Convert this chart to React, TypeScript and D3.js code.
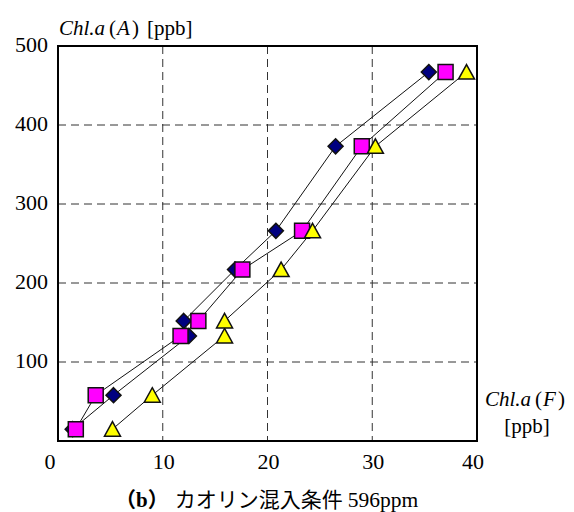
import { useEffect, useRef } from 'react';
import * as d3 from 'd3';

// Chl.a(A) levels shared by all three series
const levelsA = [15, 58, 133, 152, 217, 266, 373, 467];
// Chl.a(F) readings for each series
const diamondF = [1.4, 5.3, 12.5, 12.0, 16.9, 20.8, 26.5, 35.4];
const squareF = [1.7, 3.6, 11.7, 13.4, 17.6, 23.3, 29.0, 37.0];
const triangleF = [5.2, 9.0, 15.9, 15.9, 21.3, 24.3, 30.3, 39.0];

const xTicks = [0, 10, 20, 30, 40];
const yTicks = [100, 200, 300, 400, 500];
const xGrid = [10, 20, 30];
const yGrid = [100, 200, 300, 400];

const W = 574;
const H = 512;

const Chart = () => {
  const ref = useRef<SVGSVGElement>(null);

  useEffect(() => {
    const svg = d3.select(ref.current);
    svg.selectAll('*').remove();

    const x = d3.scaleLinear().domain([0, 40]).range([58, 477]);
    const y = d3.scaleLinear().domain([0, 500]).range([441, 46]);
    const serif = '"Times New Roman", "Liberation Serif", serif';
    const jp = '"Noto Sans CJK JP", sans-serif';

    // grid
    svg
      .append('g')
      .selectAll('line')
      .data(xGrid)
      .join('line')
      .attr('x1', (d) => x(d))
      .attr('x2', (d) => x(d))
      .attr('y1', y(500))
      .attr('y2', y(0))
      .attr('stroke', '#333')
      .attr('stroke-dasharray', '8,5');
    svg
      .append('g')
      .selectAll('line')
      .data(yGrid)
      .join('line')
      .attr('x1', x(0))
      .attr('x2', x(40))
      .attr('y1', (d) => y(d))
      .attr('y2', (d) => y(d))
      .attr('stroke', '#333')
      .attr('stroke-dasharray', '8,5');

    // frame
    svg
      .append('rect')
      .attr('x', x(0))
      .attr('y', y(500))
      .attr('width', x(40) - x(0))
      .attr('height', y(0) - y(500))
      .attr('fill', 'none')
      .attr('stroke', '#000')
      .attr('stroke-width', 2);

    const series = [
      { xs: diamondF, fill: '#000080', shape: 'diamond' },
      { xs: squareF, fill: '#FF00FF', shape: 'square' },
      { xs: triangleF, fill: '#FFFF00', shape: 'triangle' },
    ];

    const markerPath = (shape: string) => {
      if (shape === 'square') return 'M-7.5,-7.5H7.5V7.5H-7.5Z';
      if (shape === 'diamond') return 'M0,-7.5L7.5,0L0,7.5L-7.5,0Z';
      return 'M0,-7.5L8,7L-8,7Z';
    };

    const line = d3
      .line<[number, number]>()
      .x((d) => x(d[0]))
      .y((d) => y(d[1]));

    series.forEach((s) => {
      const pts: [number, number][] = s.xs.map((v, i) => [v, levelsA[i]]);
      svg
        .append('path')
        .attr('d', line(pts))
        .attr('fill', 'none')
        .attr('stroke', '#111')
        .attr('stroke-width', 1);
      svg
        .append('g')
        .selectAll('path')
        .data(pts)
        .join('path')
        .attr('d', markerPath(s.shape))
        .attr('transform', (d) => `translate(${x(d[0])},${y(d[1])})`)
        .attr('fill', s.fill)
        .attr('stroke', '#111')
        .attr('stroke-width', 1.5);
    });

    // tick labels
    svg
      .append('g')
      .selectAll('text')
      .data(xTicks)
      .join('text')
      .attr('x', (d) => x(d) + (d === 0 ? -8 : d === 40 ? -4 : 1))
      .attr('y', 469)
      .attr('text-anchor', 'middle')
      .attr('font-family', serif)
      .attr('font-size', 22)
      .text((d) => d);
    svg
      .append('g')
      .selectAll('text')
      .data(yTicks)
      .join('text')
      .attr('x', 48)
      .attr('y', (d) => y(d) + 5.5)
      .attr('text-anchor', 'end')
      .attr('font-family', serif)
      .attr('font-size', 22)
      .text((d) => d);

    // y axis title
    const yt = svg
      .append('text')
      .attr('x', 59)
      .attr('y', 35)
      .attr('font-family', serif)
      .attr('font-size', 21);
    yt.append('tspan').attr('font-style', 'italic').text('Chl.a');
    yt.append('tspan').attr('dx', 4).text('(');
    yt.append('tspan').attr('dx', 1).attr('font-style', 'italic').text('A');
    yt.append('tspan').attr('dx', 2).text(')');
    yt.append('tspan').attr('dx', 8).text('[ppb]');

    // x axis title
    const xt = svg
      .append('text')
      .attr('x', 485)
      .attr('y', 406)
      .attr('font-family', serif)
      .attr('font-size', 21);
    xt.append('tspan').attr('font-style', 'italic').text('Chl.a');
    xt.append('tspan').attr('dx', 4).text('(');
    xt.append('tspan').attr('dx', 1).attr('font-style', 'italic').text('F');
    xt.append('tspan').attr('dx', 2).text(')');
    svg
      .append('text')
      .attr('x', 527)
      .attr('y', 433)
      .attr('text-anchor', 'middle')
      .attr('font-family', serif)
      .attr('font-size', 21)
      .text('[ppb]');

    // caption
    const cap = svg
      .append('text')
      .attr('x', 115)
      .attr('y', 507)
      .attr('font-size', 21);
    cap
      .append('tspan')
      .attr('font-family', jp)
      .attr('font-weight', 'bold')
      .text('（');
    cap
      .append('tspan')
      .attr('font-family', serif)
      .attr('font-weight', 'bold')
      .text('b');
    cap
      .append('tspan')
      .attr('font-family', jp)
      .attr('font-weight', 'bold')
      .text('）');
    cap
      .append('tspan')
      .attr('dx', 6)
      .attr('font-family', jp)
      .text('カオリン混入条件');
    cap
      .append('tspan')
      .attr('dx', 5)
      .attr('font-family', serif)
      .attr('font-size', 21.5)
      .text('596ppm');
  }, [ref]);

  return (
    <svg
      ref={ref}
      width={W}
      height={H}
      style={{ position: 'absolute', left: 0, top: 0, background: '#fff' }}
    />
  );
};

export default function App() {
  return (
    <div>
      <Chart />
    </div>
  );
}
